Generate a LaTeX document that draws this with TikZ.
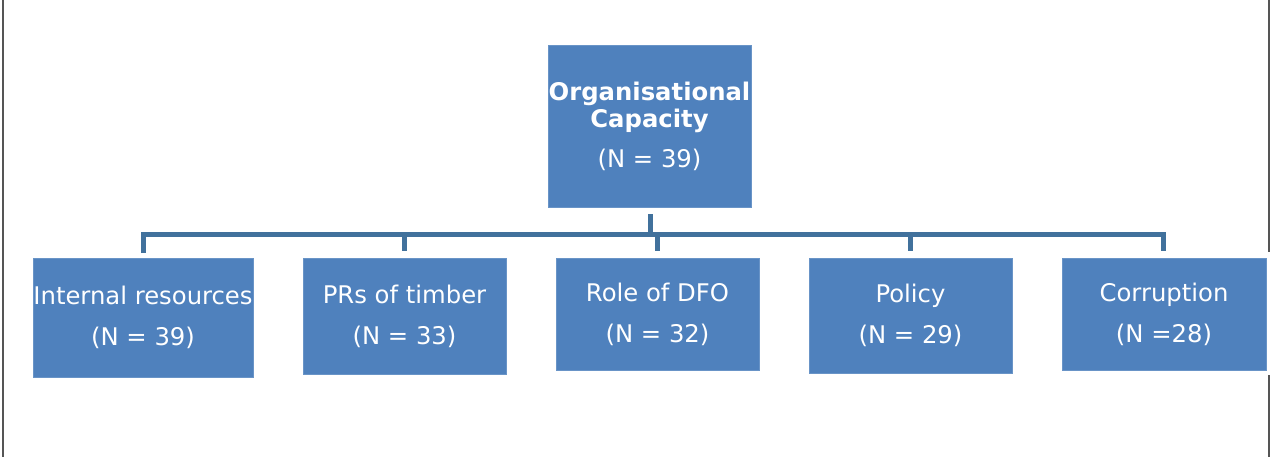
\documentclass[tikz,border=0pt]{standalone}
\usepackage{fontspec}
\setmainfont{DejaVu Sans}
\definecolor{boxblue}{HTML}{4F81BD}
\definecolor{linkblue}{HTML}{41719C}
\definecolor{framegray}{HTML}{555555}
\begin{document}
\begin{tikzpicture}[x=1pt,y=-1pt,
  box/.style={rectangle, fill=boxblue, draw=boxblue!85!white, line width=0.6pt, text=white, align=center, inner sep=0pt},
  cbox/.style={box, font={\fontsize{24.3}{41}\selectfont}},
  tbox/.style={box, font={\fontsize{24.3}{27}\selectfont}},
  link/.style={draw=linkblue, line width=5pt},
  frame/.style={draw=framegray, line width=1.3pt}]
\useasboundingbox (0,0) rectangle (1276,457);
% frame lines
\coordinate (fl1) at (3,0);
\coordinate (fl2) at (3,457);
\coordinate (fr1) at (1269,0);
\coordinate (fr2) at (1269,252);
\coordinate (fr3) at (1269,375);
\coordinate (fr4) at (1269,457);
\draw[frame] (fl1) -- (fl2);
\draw[frame] (fr1) -- (fr2);
\draw[frame] (fr3) -- (fr4);
% boxes
\node[tbox, minimum width=203pt, minimum height=162pt] (top) at (649.5,126)
  {\textbf{Organisational}\\\textbf{Capacity}\\[13pt](N = 39)};
\node[cbox, minimum width=220pt, minimum height=119pt] (ir) at (143,317.5) {Internal resources\\(N = 39)};
\node[cbox, minimum width=203pt, minimum height=116pt] (pr) at (404.5,316) {PRs of timber\\(N = 33)};
\node[cbox, minimum width=203pt, minimum height=112pt] (dfo) at (657.5,314) {Role of DFO\\(N = 32)};
\node[cbox, minimum width=203pt, minimum height=115pt] (pol) at (910.5,315.5) {Policy\\(N = 29)};
\node[cbox, minimum width=204pt, minimum height=112pt] (cor) at (1164,314) {Corruption\\(N =28)};
% connectors
\coordinate (bt) at (650,234);
\coordinate (b1) at (143,234);
\coordinate (b2) at (404,234);
\coordinate (b3) at (657,234);
\coordinate (b4) at (910,234);
\coordinate (b5) at (1163,234);
\draw[link, shorten <=7pt] (top.south -| bt) -- (bt);
\draw[link, line join=miter] ([yshift=-2.5pt]b1 |- ir.north) ++(0,-7) -- (b1) -- (b5) -- ++(0,17);
\draw[link, shorten >=7pt] (b2) -- (b2 |- pr.north);
\draw[link, shorten >=7pt] (b3) -- (b3 |- dfo.north);
\draw[link, shorten >=7pt] (b4) -- (b4 |- pol.north);
\end{tikzpicture}
\end{document}
